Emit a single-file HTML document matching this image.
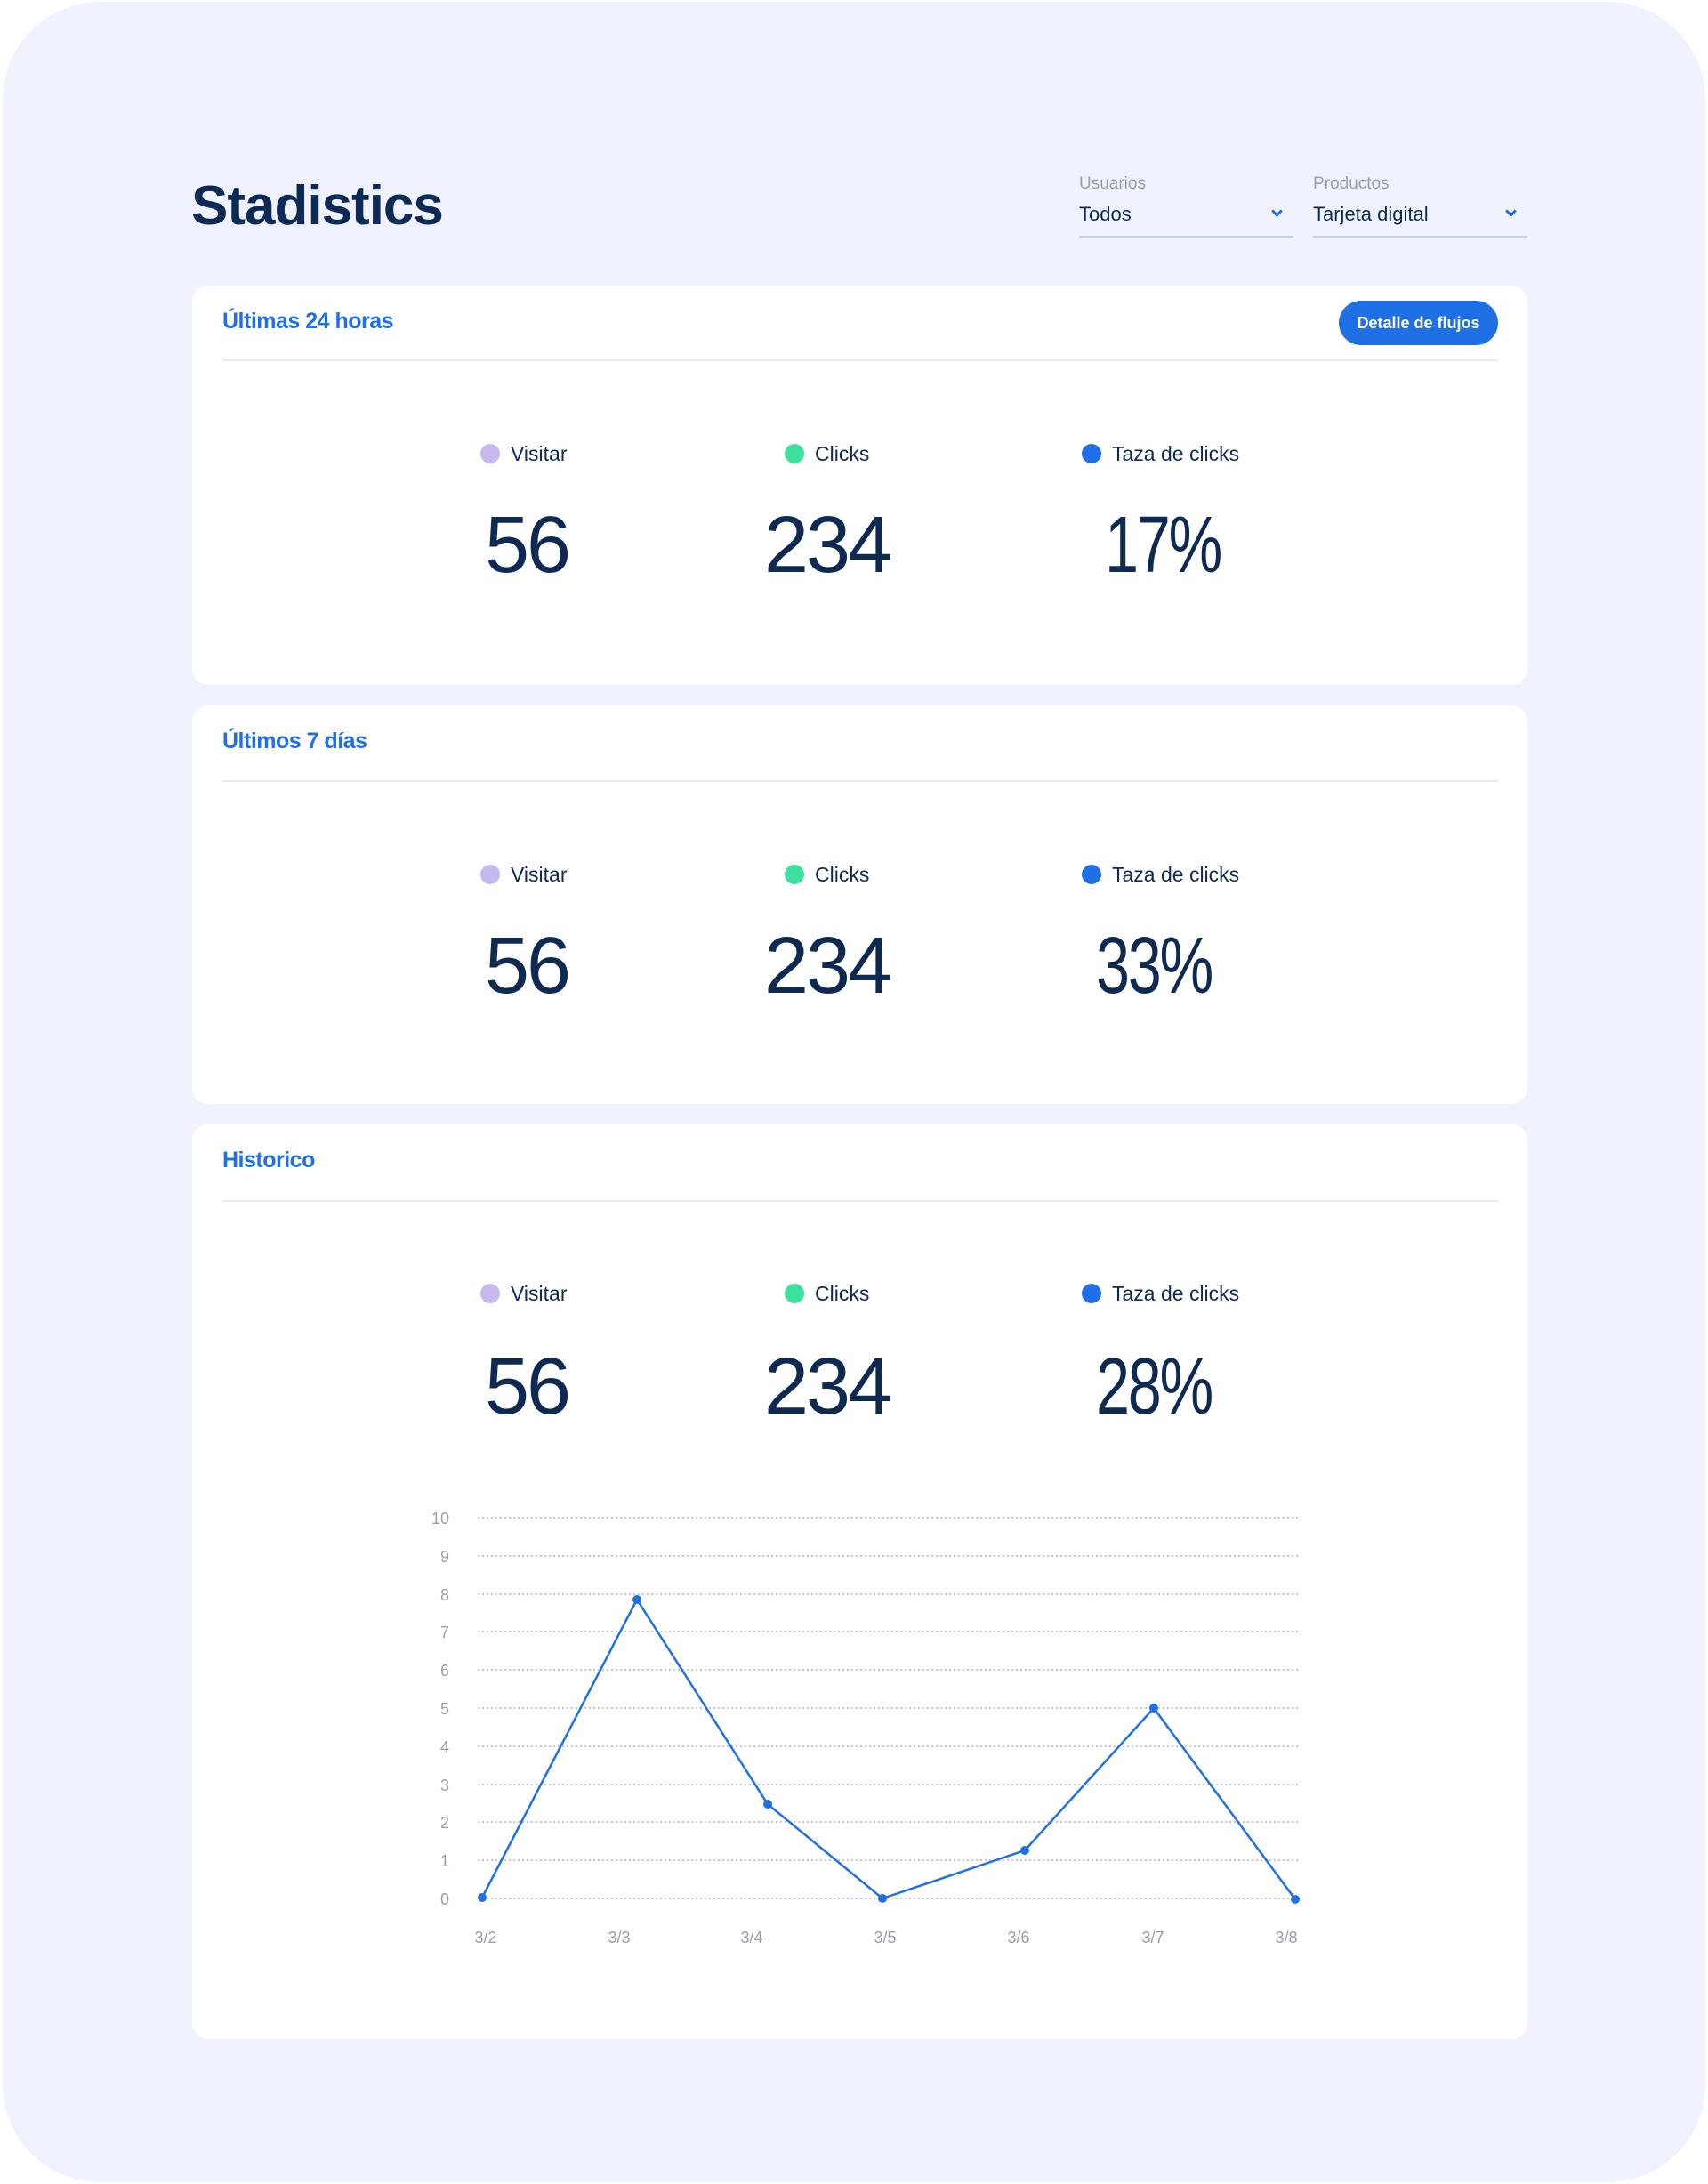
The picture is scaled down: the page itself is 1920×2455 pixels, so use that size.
<!DOCTYPE html>
<html><head><meta charset="utf-8"><style>
*{margin:0;padding:0;box-sizing:border-box}
body{width:1920px;height:2455px;background:#fff;font-family:"Liberation Sans",sans-serif;position:relative;overflow:hidden;color:#0f2a52}
.abs{position:absolute;white-space:nowrap}
.panel{position:absolute;left:3px;top:2px;width:1914px;height:2451px;background:#f0f3fe;border-radius:110px}
.card{position:absolute;left:216px;width:1501px;background:#fff;border-radius:18px}
.ct{position:absolute;left:34px;font-size:25px;font-weight:bold;color:#1f6fe5;letter-spacing:-0.5px}
.div{position:absolute;left:34px;width:1434px;height:2px;background:#e6eaf4}
.dot{position:absolute;width:22px;height:22px;border-radius:50%}
.lab{position:absolute;font-size:23px;line-height:24px;color:#0f2a52}
.num{position:absolute;font-size:90px;line-height:90px;color:#0f2a52;letter-spacing:-3px;font-weight:300;white-space:nowrap}
.pct{transform:scaleX(0.76);transform-origin:left center}
.sl{position:absolute;font-size:19px;color:#9a9ea8}
.sv{position:absolute;font-size:22px;color:#0f2a52}
.ul{position:absolute;height:2px;background:#bcd3fb}
.chev{position:absolute;width:9px;height:9px;border-right:3px solid #1f6fe5;border-bottom:3px solid #1f6fe5;transform:rotate(45deg)}
</style></head><body>
<div class="panel"></div>
<div class="abs" style="left:215px;top:196px;font-size:62px;font-weight:bold;letter-spacing:-1px;color:#0d2a55">Stadistics</div>

<div class="sl abs" style="left:1213px;top:196px">Usuarios</div>
<div class="sv abs" style="left:1213px;top:228px">Todos</div>
<div class="chev" style="left:1431px;top:233px"></div>
<div class="ul" style="left:1213px;top:265px;width:241px"></div>
<div class="sl abs" style="left:1476px;top:196px">Productos</div>
<div class="sv abs" style="left:1476px;top:228px">Tarjeta digital</div>
<div class="chev" style="left:1694px;top:233px"></div>
<div class="ul" style="left:1476px;top:265px;width:241px"></div>

<div class="card" style="top:321px;height:449px">
  <div class="ct abs" style="top:26px">Últimas 24 horas</div>
  <div class="abs" style="left:1289px;top:17px;width:179px;height:50px;border-radius:25px;background:#1f6fe5;color:#fff;font-size:18px;font-weight:bold;text-align:center;line-height:50px">Detalle de flujos</div>
  <div class="div" style="top:83px"></div>
  <div class="dot" style="left:324px;top:178px;background:#c8b8f0"></div><div class="lab" style="left:358px;top:177px">Visitar</div>
  <div class="dot" style="left:666px;top:178px;background:#3ee0a0"></div><div class="lab" style="left:700px;top:177px">Clicks</div>
  <div class="dot" style="left:1000px;top:178px;background:#1f6fe5"></div><div class="lab" style="left:1034px;top:177px">Taza de clicks</div>
  <div class="num" style="left:329px;top:247px">56</div>
  <div class="num" style="left:643px;top:247px">234</div>
  <div class="num pct" style="left:1026px;top:247px">17%</div>
</div>

<div class="card" style="top:793px;height:448px">
  <div class="ct abs" style="top:26px">Últimos 7 días</div>
  <div class="div" style="top:84px"></div>
  <div class="dot" style="left:324px;top:179px;background:#c8b8f0"></div><div class="lab" style="left:358px;top:178px">Visitar</div>
  <div class="dot" style="left:666px;top:179px;background:#3ee0a0"></div><div class="lab" style="left:700px;top:178px">Clicks</div>
  <div class="dot" style="left:1000px;top:179px;background:#1f6fe5"></div><div class="lab" style="left:1034px;top:178px">Taza de clicks</div>
  <div class="num" style="left:329px;top:248px">56</div>
  <div class="num" style="left:643px;top:248px">234</div>
  <div class="num pct" style="left:1016px;top:248px">33%</div>
</div>

<div class="card" style="top:1264px;height:1028px">
  <div class="ct abs" style="top:26px">Historico</div>
  <div class="div" style="top:85px"></div>
  <div class="dot" style="left:324px;top:179px;background:#c8b8f0"></div><div class="lab" style="left:358px;top:178px">Visitar</div>
  <div class="dot" style="left:666px;top:179px;background:#3ee0a0"></div><div class="lab" style="left:700px;top:178px">Clicks</div>
  <div class="dot" style="left:1000px;top:179px;background:#1f6fe5"></div><div class="lab" style="left:1034px;top:178px">Taza de clicks</div>
  <div class="num" style="left:329px;top:250px">56</div>
  <div class="num" style="left:643px;top:250px">234</div>
  <div class="num pct" style="left:1016px;top:250px">28%</div>
</div>

<svg class="abs" style="left:0;top:0" width="1920" height="2455">
  <g stroke="#c4c6cc" stroke-width="2" stroke-dasharray="2 3">
    <line x1="537" x2="1462" y1="1706" y2="1706"/>
    <line x1="537" x2="1462" y1="1749" y2="1749"/>
    <line x1="537" x2="1462" y1="1792" y2="1792"/>
    <line x1="537" x2="1462" y1="1834" y2="1834"/>
    <line x1="537" x2="1462" y1="1877" y2="1877"/>
    <line x1="537" x2="1462" y1="1920" y2="1920"/>
    <line x1="537" x2="1462" y1="1963" y2="1963"/>
    <line x1="537" x2="1462" y1="2006" y2="2006"/>
    <line x1="537" x2="1462" y1="2048" y2="2048"/>
    <line x1="537" x2="1462" y1="2091" y2="2091"/>
    <line x1="537" x2="1462" y1="2134" y2="2134"/>
  </g>
  <g font-family="Liberation Sans, sans-serif" font-size="18" fill="#9a9ea8" text-anchor="end">
    <text x="505" y="1713">10</text><text x="505" y="1756">9</text><text x="505" y="1799">8</text>
    <text x="505" y="1841">7</text><text x="505" y="1884">6</text><text x="505" y="1927">5</text>
    <text x="505" y="1970">4</text><text x="505" y="2013">3</text><text x="505" y="2055">2</text>
    <text x="505" y="2098">1</text><text x="505" y="2141">0</text>
  </g>
  <g font-family="Liberation Sans, sans-serif" font-size="18" fill="#9a9ea8" text-anchor="middle">
    <text x="546" y="2184">3/2</text><text x="696" y="2184">3/3</text><text x="845" y="2184">3/4</text>
    <text x="995" y="2184">3/5</text><text x="1145" y="2184">3/6</text><text x="1296" y="2184">3/7</text>
    <text x="1446" y="2184">3/8</text>
  </g>
  <polyline fill="none" stroke="#1f6fe5" stroke-width="2.5" points="542,2133 716,1798 863,2028 992,2134 1152,2080 1297,1920 1456,2135"/>
  <g fill="#1f6fe5">
    <circle cx="542" cy="2133" r="5"/><circle cx="716" cy="1798" r="5"/><circle cx="863" cy="2028" r="5"/>
    <circle cx="992" cy="2134" r="5"/><circle cx="1152" cy="2080" r="5"/><circle cx="1297" cy="1920" r="5"/>
    <circle cx="1456" cy="2135" r="5"/>
  </g>
</svg>
</body></html>
